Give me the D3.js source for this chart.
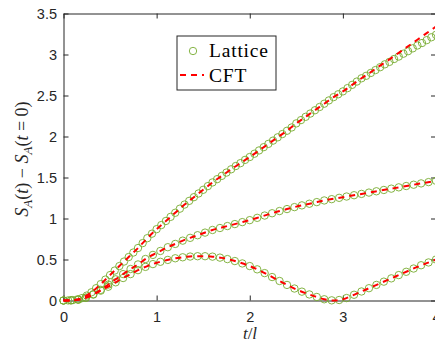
<!DOCTYPE html>
<head>
  <meta charset="utf-8">
  <script src="https://d3js.org/d3.v7.min.js"></script>
  <style>
    body { margin: 0; background: #fff; }
    svg { display: block; }
  </style>
</head>
<body>
  <div id="chart"></div>
</body>
<script>

// lattice data, top curve (fine grid)
var tTop = [0,0.05,0.1,0.15,0.2,0.25,0.3,0.35,0.4,0.45,0.5,0.55,0.6,0.65,0.7,0.75,0.8,0.85,0.9,0.95,
  1,1.05,1.1,1.15,1.2,1.25,1.3,1.35,1.4,1.45,1.5,1.55,1.6,1.65,1.7,1.75,1.8,1.85,1.9,1.95,
  2,2.05,2.1,2.15,2.2,2.25,2.3,2.35,2.4,2.45,2.5,2.55,2.6,2.65,2.7,2.75,2.8,2.85,2.9,2.95,
  3,3.05,3.1,3.15,3.2,3.25,3.3,3.35,3.4,3.45,3.5,3.55,3.6,3.65,3.7,3.75,3.8,3.85,3.9,3.95,4];
var latTop = [0,0.001,0.005,0.014,0.03,0.06,0.10,0.15,0.20,0.255,0.31,0.365,0.42,0.475,0.53,0.585,0.64,0.70,0.76,0.815,
  0.87,0.92,0.97,1.02,1.07,1.12,1.17,1.215,1.26,1.305,1.35,1.395,1.44,1.48,1.52,1.56,1.60,1.64,1.675,1.715,
  1.75,1.79,1.83,1.87,1.91,1.95,1.99,2.03,2.07,2.11,2.16,2.20,2.24,2.28,2.32,2.36,2.40,2.44,2.48,2.515,
  2.55,2.59,2.63,2.67,2.71,2.74,2.775,2.81,2.845,2.88,2.91,2.945,2.975,3.01,3.04,3.075,3.11,3.14,3.175,3.21,3.24];

// lattice data, middle and bottom curves
var tLow = [0,0.08,0.16,0.24,0.32,0.4,0.48,0.56,0.64,0.72,0.8,0.88,0.96,1.04,1.12,1.2,1.28,1.36,1.44,1.52,
  1.6,1.68,1.76,1.84,1.92,2,2.08,2.16,2.24,2.32,2.4,2.48,2.56,2.64,2.72,2.8,2.88,2.96,3.04,3.12,
  3.2,3.28,3.36,3.44,3.52,3.6,3.68,3.76,3.84,3.92,4];
var latMid = [0,0.002,0.011,0.035,0.077,0.13,0.194,0.258,0.322,0.384,0.44,0.506,0.556,0.604,0.65,0.69,0.73,0.764,0.796,0.828,
  0.86,0.884,0.908,0.932,0.956,0.98,1.008,1.036,1.064,1.091,1.115,1.139,1.16,1.18,1.20,1.22,1.236,1.252,1.268,1.284,
  1.30,1.316,1.332,1.348,1.364,1.38,1.396,1.412,1.428,1.444,1.46];
var latBot = [0,0.002,0.011,0.033,0.072,0.12,0.168,0.222,0.274,0.322,0.37,0.41,0.444,0.472,0.495,0.515,0.527,0.536,0.54,0.54,
  0.535,0.523,0.505,0.481,0.452,0.42,0.38,0.334,0.286,0.238,0.19,0.146,0.108,0.074,0.043,0.015,0.002,0.006,0.03,0.07,
  0.11,0.15,0.19,0.23,0.27,0.31,0.35,0.39,0.43,0.464,0.50];

// CFT curves
var tCft = [0,0.1,0.2,0.3,0.4,0.5,0.6,0.7,0.8,0.9,1,1.1,1.2,1.3,1.4,1.5,1.6,1.7,1.8,1.9,
  2,2.1,2.2,2.3,2.4,2.5,2.6,2.7,2.8,2.9,3,3.1,3.2,3.3,3.4,3.5,3.6,3.7,3.8,3.9,4];
var cftTop = [0,0.005,0.03,0.10,0.20,0.31,0.42,0.53,0.64,0.76,0.87,0.97,1.07,1.17,1.26,1.35,1.44,1.52,1.60,1.675,
  1.75,1.83,1.91,1.99,2.07,2.16,2.24,2.32,2.40,2.48,2.55,2.63,2.71,2.785,2.865,2.94,3.02,3.10,3.18,3.26,3.34];
var cftMid = [0,0.003,0.02,0.065,0.13,0.21,0.29,0.37,0.44,0.52,0.58,0.64,0.69,0.74,0.78,0.82,0.86,0.89,0.92,0.95,
  0.98,1.015,1.05,1.085,1.115,1.145,1.17,1.195,1.22,1.24,1.26,1.28,1.30,1.32,1.34,1.36,1.38,1.40,1.42,1.44,1.46];
var cftBot = [0,0.003,0.02,0.06,0.12,0.18,0.25,0.31,0.37,0.42,0.46,0.49,0.515,0.53,0.54,0.54,0.535,0.52,0.495,0.46,
  0.42,0.37,0.31,0.25,0.19,0.135,0.09,0.05,0.015,0,0.015,0.06,0.11,0.16,0.21,0.26,0.31,0.36,0.41,0.455,0.50];

var xTicks = [0, 1, 2, 3, 4];
var yTicks = [0, 0.5, 1, 1.5, 2, 2.5, 3, 3.5];
var legendLabels = ["Lattice", "CFT"];

var W = 435, H = 343;
var axisColor = "#262626", green = "#77ac30", red = "#ff0000";

var svg = d3.select("#chart")
  .append("svg")
    .attr("width", W)
    .attr("height", H);

var x = d3.scaleLinear().domain([0, 4]).range([63.5, 436]);
var y = d3.scaleLinear().domain([0, 3.5]).range([300.5, 13.5]);

// axes (ticks inside like matlab)
function styleAxis(g) {
  g.selectAll("path.domain").attr("stroke", axisColor).attr("stroke-width", 1);
  g.selectAll(".tick line").attr("stroke", axisColor).attr("stroke-width", 1);
  g.selectAll(".tick text")
    .attr("fill", axisColor)
    .style("font-family", "'Liberation Sans', Arial, sans-serif")
    .style("font-size", "14.5px");
}

svg.append("g")
  .attr("transform", "translate(0," + y(0) + ")")
  .call(d3.axisBottom(x).tickValues(xTicks).tickSizeInner(-5).tickSizeOuter(0).tickPadding(11).tickFormat(d3.format("")))
  .call(styleAxis);

svg.append("g")
  .attr("transform", "translate(0," + y(3.5) + ")")
  .call(d3.axisTop(x).tickValues(xTicks).tickSizeInner(-5).tickSizeOuter(0).tickFormat(""))
  .call(styleAxis);

svg.append("g")
  .attr("transform", "translate(" + x(0) + ",0)")
  .call(d3.axisLeft(y).tickValues(yTicks).tickSizeInner(-5).tickSizeOuter(0).tickPadding(6.5).tickFormat(d3.format("")))
  .call(styleAxis);

svg.append("g")
  .attr("transform", "translate(" + x(4) + ",0)")
  .call(d3.axisRight(y).tickValues(yTicks).tickSizeInner(-5).tickSizeOuter(0).tickFormat(""))
  .call(styleAxis);

// lattice circles
var latSets = [
  {t: tTop, v: latTop},
  {t: tLow, v: latMid},
  {t: tLow, v: latBot}
];
latSets.forEach(function(s) {
  svg.append("g")
    .selectAll("circle")
    .data(s.v)
    .enter()
    .append("circle")
      .attr("cx", function(d, i) { return x(s.t[i]); })
      .attr("cy", function(d) { return y(d); })
      .attr("r", 3.7)
      .attr("fill", "none")
      .attr("stroke", green)
      .attr("stroke-width", 0.9);
});

// CFT dashed lines
var line = d3.line()
  .x(function(d, i) { return x(tCft[i]); })
  .y(function(d) { return y(d); })
  .curve(d3.curveMonotoneX);

[cftTop, cftMid, cftBot].forEach(function(s) {
  svg.append("path")
    .datum(s)
    .attr("d", line)
    .attr("fill", "none")
    .attr("stroke", red)
    .attr("stroke-width", 2)
    .attr("stroke-dasharray", "6,5");
});

// axis labels
var serif = "'Liberation Serif', 'Times New Roman', serif";

var xl = svg.append("text")
  .attr("x", 250).attr("y", 339)
  .attr("text-anchor", "middle")
  .style("font-family", serif)
  .style("font-size", "17px")
  .attr("fill", axisColor);
xl.append("tspan").style("font-style", "italic").text("t");
xl.append("tspan").text("/");
xl.append("tspan").style("font-style", "italic").text("l");

var yl = svg.append("text")
  .attr("transform", "translate(28,159) rotate(-90)")
  .attr("text-anchor", "middle")
  .style("font-family", serif)
  .style("font-size", "18px")
  .attr("fill", axisColor);
var yParts = [
  ["S", "i"], ["A", "s"], ["(", "n"], ["t", "i"], [")", "n"], [" \u2212 ", "n"],
  ["S", "i"], ["A", "s"], ["(", "n"], ["t", "i"], [" = 0)", "n"]
];
var sub = false;
yParts.forEach(function(p) {
  var ts = yl.append("tspan").text(p[0]);
  if (p[1] === "i" || p[1] === "s") ts.style("font-style", "italic");
  if (p[1] === "s") { ts.attr("dy", 4).style("font-size", "13px"); sub = true; }
  else if (sub) { ts.attr("dy", -4); sub = false; }
});

// legend
var lg = svg.append("g");
lg.append("rect")
  .attr("x", 177).attr("y", 36)
  .attr("width", 99).attr("height", 54)
  .attr("fill", "#fff")
  .attr("stroke", axisColor)
  .attr("stroke-width", 1);
lg.append("circle")
  .attr("cx", 193).attr("cy", 51).attr("r", 3.7)
  .attr("fill", "none").attr("stroke", green).attr("stroke-width", 0.9);
lg.append("line")
  .attr("x1", 180).attr("x2", 204).attr("y1", 75).attr("y2", 75)
  .attr("stroke", red).attr("stroke-width", 2).attr("stroke-dasharray", "6,5");
lg.selectAll("text.lab")
  .data(legendLabels)
  .enter()
  .append("text")
    .attr("class", "lab")
    .attr("x", 209)
    .attr("y", function(d, i) { return 57 + i * 24.5; })
    .style("font-family", serif)
    .style("font-size", "19.5px")
    .style("letter-spacing", "0.8px")
    .attr("fill", "#000")
    .text(function(d) { return d; });

</script>
